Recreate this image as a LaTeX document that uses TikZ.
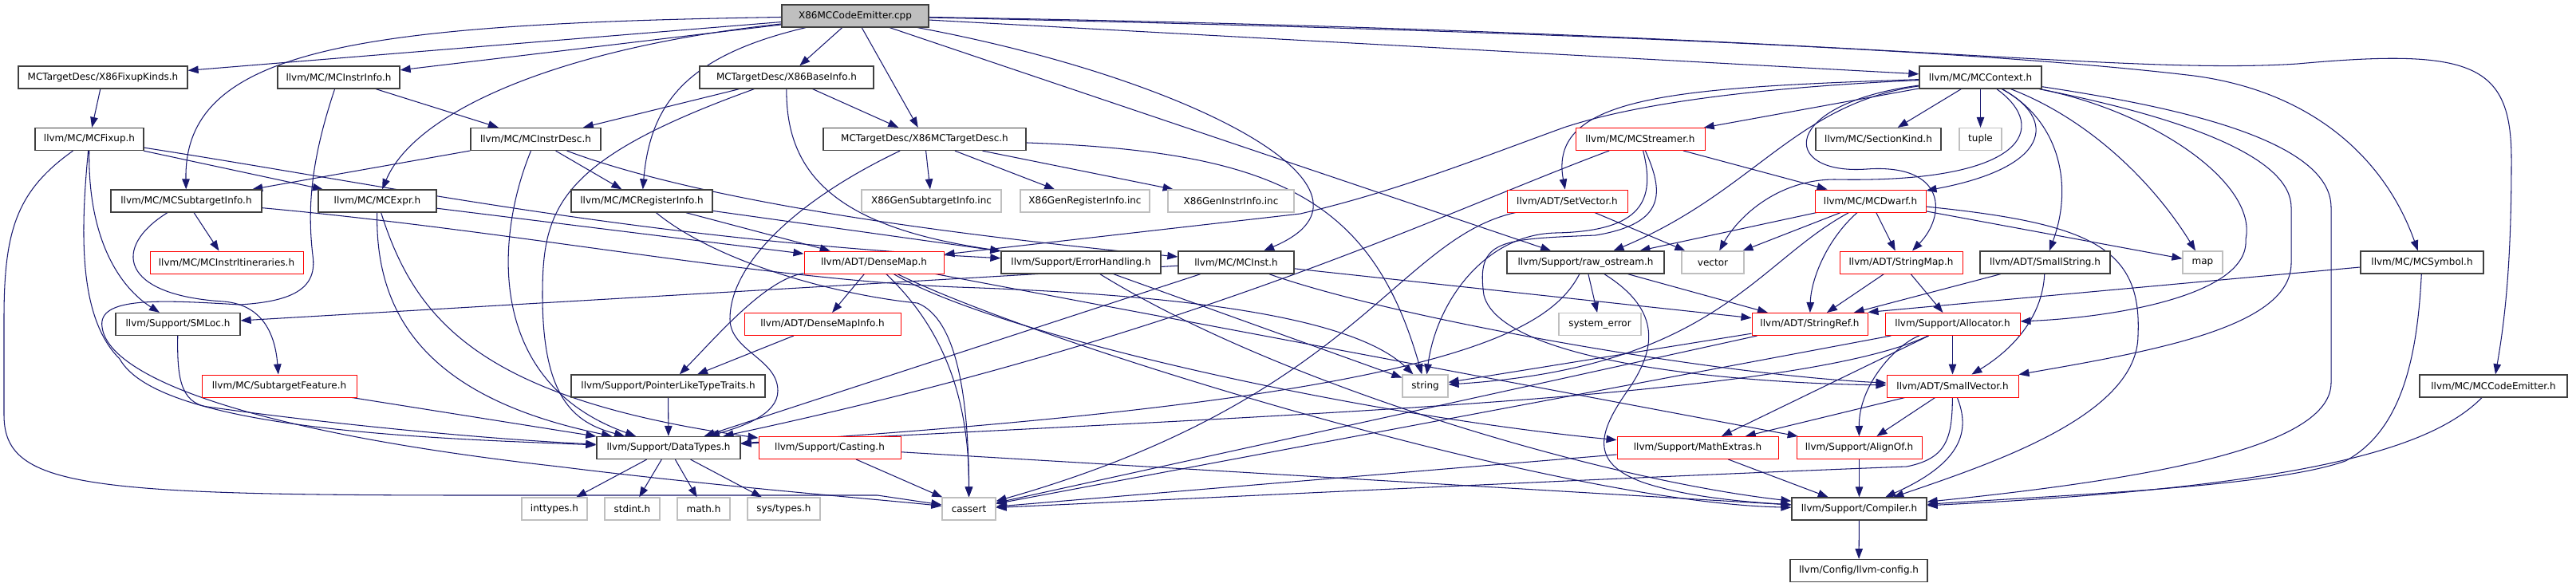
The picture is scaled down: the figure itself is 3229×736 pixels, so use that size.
\documentclass[tikz,border=0pt]{standalone}
\usepackage{fontspec}
\setmainfont{DejaVu Sans}
\usetikzlibrary{arrows.meta,calc}
\definecolor{edgec}{HTML}{191970}
\definecolor{gborder}{HTML}{BFBFBF}
\definecolor{bborder}{HTML}{404040}
\definecolor{rborder}{HTML}{FF0000}
\definecolor{rootfill}{HTML}{BFBFBF}
\pgfdeclarelayer{bottom}
\pgfdeclarelayer{bg}
\pgfsetlayers{bottom,bg,main}
\begin{document}
\begin{tikzpicture}[x=1pt,y=-1pt,
  box/.style={draw, line width=1.3pt, minimum height=28pt, inner sep=0pt, fill=white, font=\fontsize{12}{14}\selectfont},
  bbox/.style={box, draw=bborder},
  rbox/.style={box, draw=rborder, line width=1pt},
  gbox/.style={box, draw=gborder, line width=1.2pt},
  dep/.style={draw=edgec, line width=1.05pt, -{Triangle[length=13pt,width=9.5pt]}}]
\begin{pgfonlayer}{bottom}
\fill[white] (0,0) rectangle (3229,736);
\end{pgfonlayer}
\useasboundingbox (0,0) rectangle (3229,736);
% row 0
\node[bbox, fill=rootfill, minimum width=184pt] (R) at (1072,20) {X86MCCodeEmitter.cpp};
% row 1
\node[bbox, minimum width=212pt] (FK) at (129,97) {MCTargetDesc/X86FixupKinds.h};
\node[bbox, minimum width=153pt] (II) at (424.5,97) {llvm/MC/MCInstrInfo.h};
\node[bbox, minimum width=218pt] (BI) at (986,97) {MCTargetDesc/X86BaseInfo.h};
\node[bbox, minimum width=153pt] (CTX) at (2482.5,97) {llvm/MC/MCContext.h};
% row 2
\node[bbox, minimum width=136pt] (FX) at (112,174.5) {llvm/MC/MCFixup.h};
\node[bbox, minimum width=163pt] (ID) at (671.5,174.5) {llvm/MC/MCInstrDesc.h};
\node[bbox, minimum width=254pt] (TD) at (1159,174.5) {MCTargetDesc/X86MCTargetDesc.h};
\node[rbox, minimum width=162pt] (MS) at (2056,174.5) {llvm/MC/MCStreamer.h};
\node[bbox, minimum width=157pt] (SK) at (2354.5,174.5) {llvm/MC/SectionKind.h};
\node[gbox, minimum width=53pt] (TU) at (2482.5,174.5) {tuple};
% row 3
\node[bbox, minimum width=189pt] (STI) at (233.5,252) {llvm/MC/MCSubtargetInfo.h};
\node[bbox, minimum width=148pt] (EX) at (473,252) {llvm/MC/MCExpr.h};
\node[bbox, minimum width=177pt] (RI) at (804.5,252) {llvm/MC/MCRegisterInfo.h};
\node[gbox, minimum width=175pt] (GS) at (1167.5,252) {X86GenSubtargetInfo.inc};
\node[gbox, minimum width=162pt] (GR) at (1360,252) {X86GenRegisterInfo.inc};
\node[gbox, minimum width=158pt] (GI) at (1543,252) {X86GenInstrInfo.inc};
\node[rbox, minimum width=151pt] (SV) at (1964.5,252) {llvm/ADT/SetVector.h};
\node[rbox, minimum width=139pt] (DW) at (2344.5,252) {llvm/MC/MCDwarf.h};
% row 4
\node[rbox, minimum width=192pt] (IT) at (284,329) {llvm/MC/MCInstrItineraries.h};
\node[rbox, minimum width=175pt] (DM) at (1095.5,329) {llvm/ADT/DenseMap.h};
\node[bbox, minimum width=200pt] (EH) at (1355,329) {llvm/Support/ErrorHandling.h};
\node[bbox, minimum width=145pt] (MI) at (1549.5,329) {llvm/MC/MCInst.h};
\node[bbox, minimum width=197pt] (RO) at (1987.5,329) {llvm/Support/raw\_ostream.h};
\node[gbox, minimum width=78pt] (VE) at (2147,329) {vector};
\node[rbox, minimum width=154pt] (SMp) at (2383,329) {llvm/ADT/StringMap.h};
\node[bbox, minimum width=163pt] (SS) at (2563.5,329) {llvm/ADT/SmallString.h};
\node[gbox, minimum width=50pt] (MA) at (2761,329) {map};
\node[bbox, minimum width=154pt] (SY) at (3036,329) {llvm/MC/MCSymbol.h};
% row 5
\node[bbox, minimum width=156pt] (SL) at (223,406.5) {llvm/Support/SMLoc.h};
\node[rbox, minimum width=196pt] (DI) at (1031,406.5) {llvm/ADT/DenseMapInfo.h};
\node[gbox, minimum width=103pt] (SE) at (2005.5,406.5) {system\_error};
\node[rbox, minimum width=145pt] (SR) at (2268.5,406.5) {llvm/ADT/StringRef.h};
\node[rbox, minimum width=169pt] (AL) at (2447.5,406.5) {llvm/Support/Allocator.h};
% row 6
\node[rbox, minimum width=194pt] (SF) at (350,484) {llvm/MC/SubtargetFeature.h};
\node[bbox, minimum width=243pt] (PL) at (837.5,484) {llvm/Support/PointerLikeTypeTraits.h};
\node[gbox, minimum width=57pt] (ST) at (1786.5,484) {string};
\node[rbox, minimum width=165pt] (SVc) at (2447.5,484) {llvm/ADT/SmallVector.h};
\node[bbox, minimum width=185pt] (CE) at (3125.5,484) {llvm/MC/MCCodeEmitter.h};
% row 7
\node[bbox, minimum width=180pt] (DT) at (838,561.5) {llvm/Support/DataTypes.h};
\node[rbox, minimum width=178pt] (CS) at (1040,561.5) {llvm/Support/Casting.h};
\node[rbox, minimum width=202pt] (ME) at (2128,561.5) {llvm/Support/MathExtras.h};
\node[rbox, minimum width=157pt] (AO) at (2330.5,561.5) {llvm/Support/AlignOf.h};
% row 8
\node[gbox, minimum width=82pt] (INT) at (695,638) {inttypes.h};
\node[gbox, minimum width=69pt] (SI) at (792.5,638) {stdint.h};
\node[gbox, minimum width=66pt] (MH) at (882,638) {math.h};
\node[gbox, minimum width=91pt] (SYT) at (982.5,638) {sys/types.h};
\node[gbox, minimum width=67pt] (CA) at (1214.5,638) {cassert};
\node[bbox, minimum width=169pt] (CO) at (2330.5,638) {llvm/Support/Compiler.h};
% row 9
\node[bbox, minimum width=172pt] (LC) at (2330,715.5) {llvm/Config/llvm-config.h};

\begin{pgfonlayer}{bg}
% root
\draw[dep] (R) -- (FK);
\draw[dep] (R) -- (II);
\draw[dep] (R) -- (BI);
\draw[dep] (R) -- (TD);
\draw[dep] (R) .. controls (450,30) and (230,60) .. (STI);
\draw[dep] (R) .. controls (700,60) and (520,140) .. (EX);
\draw[dep] (R) .. controls (860,70) and (815,130) .. (RI);
\draw[dep] (R) .. controls (1500,100) and (1760,240) .. (MI);
\draw[dep] (R) -- (RO);
\draw[dep] (R) -- (CTX);
\draw[dep] (R) .. controls (2000,40) and (2500,65) .. (2750,95) .. controls (2900,115) and (2990,200) .. (SY);
\draw[dep] (R) .. controls (2300,40) and (2650,95) .. (2880,80) .. controls (3100,60) and (3148,80) .. (3148,200) .. controls (3148,330) and (3140,400) .. (CE);
% fixup
\draw[dep] (FK) -- (FX);
\draw[dep] (FX) -- (EX);
\draw[dep] (FX) .. controls (500,235) and (800,300) .. (EH);
\draw[dep] (FX) .. controls (110,300) and (150,360) .. (SL);
\draw[dep] (FX) .. controls (100,300) and (100,400) .. (150,450) .. controls (200,540) and (550,550) .. (DT);
\draw[dep] (FX) .. controls (20,240) and (5,290) .. (5,400) -- (5,520) .. controls (5,610) and (100,621) .. (600,621) -- (1100,621) -- (CA);
% instrinfo
\draw[dep] (II) -- (ID);
\draw[dep] (II) .. controls (390,200) and (385,260) .. (392,320) .. controls (398,360) and (370,378) .. (300,382) .. controls (200,376) and (122,372) .. (128,410) .. controls (135,470) and (300,540) .. (700,585) .. controls (900,610) and (1100,626) .. (CA);
% baseinfo
\draw[dep] (BI) -- (ID);
\draw[dep] (BI) -- (TD);
\draw[dep] (BI) .. controls (700,200) and (680,260) .. (680,370) .. controls (680,500) and (720,530) .. (DT);
\draw[dep] (BI) .. controls (985,220) and (1050,285) .. (EH);
% instrdesc
\draw[dep] (ID) -- (STI);
\draw[dep] (ID) -- (RI);
\draw[dep] (ID) .. controls (620,300) and (610,480) .. (DT);
\draw[dep] (ID) .. controls (900,260) and (1250,300) .. (MI);
% targetdesc
\draw[dep] (TD) -- (GS);
\draw[dep] (TD) -- (GR);
\draw[dep] (TD) -- (GI);
\draw[dep] (TD) .. controls (1000,250) and (915,330) .. (915,400) .. controls (915,440) and (975,450) .. (975,490) .. controls (975,520) and (930,535) .. (DT);
\draw[dep] (TD) .. controls (1600,190) and (1720,250) .. (ST);
% subtargetinfo
\draw[dep] (STI) -- (IT);
\draw[dep] (STI) .. controls (140,310) and (150,370) .. (280,378) .. controls (330,382) and (345,420) .. (SF);
\draw[dep] (STI) .. controls (650,290) and (950,350) .. (1200,360) .. controls (1500,370) and (1700,400) .. (ST);
% expr
\draw[dep] (EX) -- (DM);
\draw[dep] (EX) .. controls (470,400) and (540,500) .. (DT);
\draw[dep] (EX) .. controls (520,400) and (600,500) .. (CS);
% registerinfo
\draw[dep] (RI) -- (DM);
\draw[dep] (RI) -- (EH);
\draw[dep] (RI) .. controls (900,330) and (1050,370) .. (1150,380) .. controls (1200,400) and (1214,500) .. (CA);
% context
\draw[dep] (CTX) -- (MS);
\draw[dep] (CTX) -- (SK);
\draw[dep] (CTX) -- (TU);
\draw[dep] (CTX) .. controls (2100,110) and (1940,120) .. (SV);
\draw[dep] (CTX) .. controls (2200,110) and (2050,130) .. (1960,160) .. controls (1850,200) and (1750,240) .. (1630,268) -- (DM);
\draw[dep] (CTX) .. controls (2250,130) and (2200,240) .. (RO);
\draw[dep] (CTX) .. controls (2580,150) and (2570,210) .. (DW);
\draw[dep] (CTX) .. controls (2570,160) and (2540,230) .. (2300,225) .. controls (2230,225) and (2180,270) .. (VE);
\draw[dep] (CTX) .. controls (2230,130) and (2230,220) .. (2340,212) .. controls (2440,205) and (2440,270) .. (SMp);
\draw[dep] (CTX) .. controls (2580,150) and (2600,230) .. (SS);
\draw[dep] (CTX) .. controls (2620,150) and (2700,230) .. (MA);
\draw[dep] (CTX) .. controls (2700,140) and (2830,230) .. (2815,300) .. controls (2820,370) and (2650,398) .. (AL);
\draw[dep] (CTX) .. controls (2750,150) and (2872,200) .. (2872,260) -- (2872,330) .. controls (2872,410) and (2700,440) .. (SVc);
\draw[dep] (CTX) .. controls (2700,130) and (2922,170) .. (2922,260) -- (2922,480) .. controls (2922,560) and (2700,600) .. (CO);
% streamer
\draw[dep] (MS) -- (DW);
\draw[dep] (MS) .. controls (1800,270) and (1500,420) .. (DT);
\draw[dep] (MS) .. controls (2075,250) and (2060,290) .. (1950,292) .. controls (1860,294) and (1800,380) .. (ST);
\draw[dep] (MS) .. controls (2085,240) and (2090,280) .. (2000,295) .. controls (1880,300) and (1850,300) .. (1860,370) .. controls (1880,450) and (2150,480) .. (SVc);
% setvector
\draw[dep] (SV) -- (VE);
\draw[dep] (SV) .. controls (1750,300) and (1700,500) .. (CA);
% dwarf
\draw[dep] (DW) -- (VE);
\draw[dep] (DW) -- (RO);
\draw[dep] (DW) -- (SMp);
\draw[dep] (DW) -- (MA);
\draw[dep] (DW) .. controls (2290,300) and (2270,350) .. (SR);
\draw[dep] (DW) .. controls (2200,330) and (2150,460) .. (ST);
\draw[dep] (DW) .. controls (2620,280) and (2685,310) .. (2680,420) .. controls (2680,520) and (2500,580) .. (CO);
% densemap
\draw[dep] (DM) -- (DI);
\draw[dep] (DM) .. controls (960,350) and (900,420) .. (PL);
\draw[dep] (DM) .. controls (1170,400) and (1215,480) .. (CA);
\draw[dep] (DM) .. controls (1250,420) and (1700,520) .. (ME);
\draw[dep] (DM) -- (AO);
\draw[dep] (DM) .. controls (1300,430) and (1950,630) .. (CO);
% errorhandling
\draw[dep] (EH) -- (ST);
\draw[dep] (EH) .. controls (1600,480) and (2000,600) .. (CO);
% mcinst
\draw[dep] (MI) -- (SL);
\draw[dep] (MI) -- (DT);
\draw[dep] (MI) -- (SR);
\draw[dep] (MI) .. controls (1750,400) and (2150,470) .. (SVc);
% raw_ostream
\draw[dep] (RO) -- (SE);
\draw[dep] (RO) -- (SR);
\draw[dep] (RO) .. controls (1940,420) and (1800,500) .. (DT);
\draw[dep] (RO) .. controls (2085,390) and (2075,440) .. (2040,490) .. controls (2005,540) and (1990,580) .. (2060,605) .. controls (2120,625) and (2200,630) .. (CO);
% stringmap, smallstring, symbol
\draw[dep] (SMp) -- (SR);
\draw[dep] (SMp) -- (AL);
\draw[dep] (SS) -- (SR);
\draw[dep] (SS) .. controls (2560,400) and (2520,440) .. (SVc);
\draw[dep] ($(SY.west)+(0,6)$) -- ($(SR.east)+(0,-15)$);
\draw[dep] (SY) .. controls (3030,450) and (3010,540) .. (2940,578) .. controls (2850,610) and (2600,620) .. (CO);
\draw[dep] (CE) .. controls (3050,560) and (2900,610) .. (CO);
% smloc, densemapinfo, stringref
\draw[dep] (SL) .. controls (222,470) and (225,505) .. (260,510) .. controls (400,530) and (600,550) .. (DT);
\draw[dep] (DI) -- (PL);
\draw[dep] (SR) -- (ST);
\draw[dep] (SR) -- (CA);
% allocator
\draw[dep] (AL) -- (SVc);
\draw[dep] (AL) -- (ME);
\draw[dep] (AL) .. controls (2380,430) and (2330,480) .. (AO);
\draw[dep] (AL) .. controls (2250,500) and (1600,520) .. (DT);
\draw[dep] (AL) -- (CA);
% row 6/7
\draw[dep] (SF) -- (DT);
\draw[dep] (PL) -- (DT);
\draw[dep] (SVc) -- (ME);
\draw[dep] (SVc) -- (AO);
\draw[dep] (SVc) .. controls (2470,540) and (2460,580) .. (CO);
\draw[dep] (SVc) .. controls (2447,550) and (2440,575) .. (2390,585) .. controls (2000,600) and (1500,625) .. (CA);
\draw[dep] (DT) -- (INT);
\draw[dep] (DT) -- (SI);
\draw[dep] (DT) -- (MH);
\draw[dep] (DT) -- (SYT);
\draw[dep] (CS) -- (CA);
\draw[dep] (CS) -- (CO);
\draw[dep] (ME) -- (CO);
\draw[dep] (ME) -- (CA);
\draw[dep] (AO) -- (CO);
\draw[dep] (CO) -- (LC);
\end{pgfonlayer}
\end{tikzpicture}
\end{document}
